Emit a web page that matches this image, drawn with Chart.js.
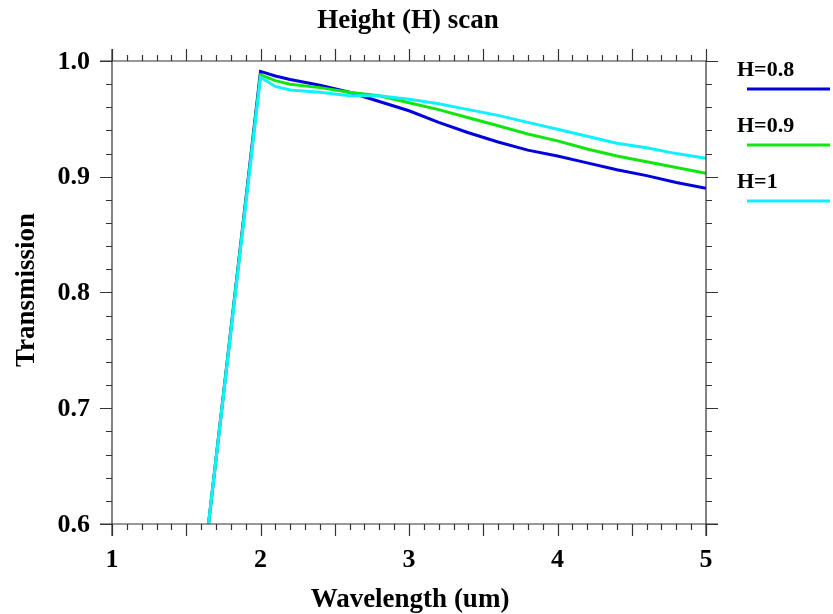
<!DOCTYPE html>
<html>
<head>
<meta charset="utf-8">
<script src="https://cdn.jsdelivr.net/npm/chart.js@4.4.1/dist/chart.umd.min.js"></script>
<style>
  html, body { margin: 0; padding: 0; background: #fff; }
  #wrap { width: 833px; height: 614px; }
</style>
</head>
<body>
<div id="wrap"><canvas id="scan"></canvas></div>
<script>
// wavelength points (um)
const wavelength = [1.65, 2.0, 2.1, 2.2, 2.4, 2.6, 2.8, 3.0, 3.2, 3.4, 3.6, 3.8, 4.0, 4.2, 4.4, 4.6, 4.8, 5.0];

// transmission per height
const transH08 = [0.600, 0.991, 0.987, 0.984, 0.979, 0.973, 0.965, 0.957, 0.947, 0.938, 0.930, 0.923, 0.918, 0.912, 0.906, 0.901, 0.895, 0.890];
const transH09 = [0.600, 0.988, 0.983, 0.980, 0.977, 0.973, 0.970, 0.964, 0.958, 0.951, 0.944, 0.937, 0.931, 0.924, 0.918, 0.913, 0.908, 0.903];
const transH1  = [0.600, 0.986, 0.978, 0.975, 0.973, 0.970, 0.970, 0.967, 0.963, 0.958, 0.953, 0.947, 0.941, 0.935, 0.929, 0.925, 0.920, 0.916];

const seriesLabels = ["H=0.8", "H=0.9", "H=1"];
const seriesColors = ["#0000dd", "#11e611", "#11f0ff"];

const xTickLabels = [1, 2, 3, 4, 5];
const yTickLabels = [0.6, 0.7, 0.8, 0.9, 1.0];

const FONT = "'Liberation Serif', 'DejaVu Serif', serif";

const pts = arr => arr.map((v, i) => ({ x: wavelength[i], y: v }));

// frame, ticks, labels and legend drawn by hand
const framePlugin = {
  id: "frame",
  afterDraw(chart) {
    const ctx = chart.ctx;
    const a = chart.chartArea;
    const xs = chart.scales.x, ys = chart.scales.y;
    ctx.save();
    ctx.strokeStyle = "#333";
    ctx.lineWidth = 1.2;

    // box, lines run a bit past the corners
    ctx.beginPath();
    ctx.moveTo(a.left - 12, a.top); ctx.lineTo(a.right, a.top);
    ctx.moveTo(a.left - 12, a.bottom); ctx.lineTo(a.right + 12, a.bottom);
    ctx.moveTo(a.left, a.top - 12); ctx.lineTo(a.left, a.bottom + 12);
    ctx.moveTo(a.right, a.top); ctx.lineTo(a.right, a.bottom + 12);
    ctx.stroke();

    // x ticks every 0.1, longer at 0.5
    ctx.beginPath();
    for (let i = 10; i <= 50; i++) {
      const px = Math.round(xs.getPixelForValue(i / 10)) + 0.5;
      const len = i % 5 === 0 ? 12 : 6;
      ctx.moveTo(px, a.bottom); ctx.lineTo(px, a.bottom + len);
      ctx.moveTo(px, a.top); ctx.lineTo(px, a.top - len);
    }
    // y ticks every 0.02, longer at 0.1
    for (let i = 30; i <= 50; i++) {
      const py = Math.round(ys.getPixelForValue(i / 50)) + 0.5;
      const len = i % 5 === 0 ? 12 : 6;
      ctx.moveTo(a.left, py); ctx.lineTo(a.left - len, py);
      ctx.moveTo(a.right, py); ctx.lineTo(a.right + len, py);
    }
    ctx.stroke();

    ctx.fillStyle = "#000";
    ctx.font = "bold 26px " + FONT;
    ctx.textAlign = "center";
    ctx.textBaseline = "middle";
    xTickLabels.forEach(v => ctx.fillText(String(v), xs.getPixelForValue(v), 560));
    ctx.textAlign = "right";
    yTickLabels.forEach(v => ctx.fillText(v.toFixed(1), 90, ys.getPixelForValue(v) + 1));

    // titles
    ctx.textAlign = "center";
    ctx.font = "bold 27px " + FONT;
    ctx.fillText("Height (H) scan", 408, 21);
    ctx.fillText("Wavelength (um)", 410, 600);
    ctx.save();
    ctx.translate(27, 290);
    ctx.rotate(-Math.PI / 2);
    ctx.fillText("Transmission", 0, 0);
    ctx.restore();

    // legend
    ctx.textAlign = "left";
    ctx.font = "bold 22px " + FONT;
    seriesLabels.forEach((lab, i) => {
      const y0 = 70 + i * 56;
      ctx.fillStyle = "#000";
      ctx.fillText(lab, 737, y0);
      ctx.strokeStyle = seriesColors[i];
      ctx.lineWidth = 3;
      ctx.beginPath();
      ctx.moveTo(747, y0 + 19); ctx.lineTo(830, y0 + 19);
      ctx.stroke();
    });
    ctx.restore();
  }
};

new Chart(document.getElementById("scan"), {
  type: "scatter",
  data: {
    datasets: [
      { label: seriesLabels[0], data: pts(transH08), borderColor: seriesColors[0], order: 2 },
      { label: seriesLabels[1], data: pts(transH09), borderColor: seriesColors[1], order: 1 },
      { label: seriesLabels[2], data: pts(transH1), borderColor: seriesColors[2], order: 0 }
    ].map(d => Object.assign(d, {
      showLine: true, pointRadius: 0, borderWidth: 3, tension: 0, fill: false
    }))
  },
  options: {
    responsive: true,
    maintainAspectRatio: false,
    animation: false,
    layout: { padding: { left: 112, right: 127, top: 61, bottom: 90 } },
    scales: {
      x: { type: "linear", min: 1, max: 5, display: false },
      y: { type: "linear", min: 0.6, max: 1.0, display: false }
    },
    plugins: { legend: { display: false }, tooltip: { enabled: false }, title: { display: false } }
  },
  plugins: [framePlugin]
});
</script>
</body>
</html>
